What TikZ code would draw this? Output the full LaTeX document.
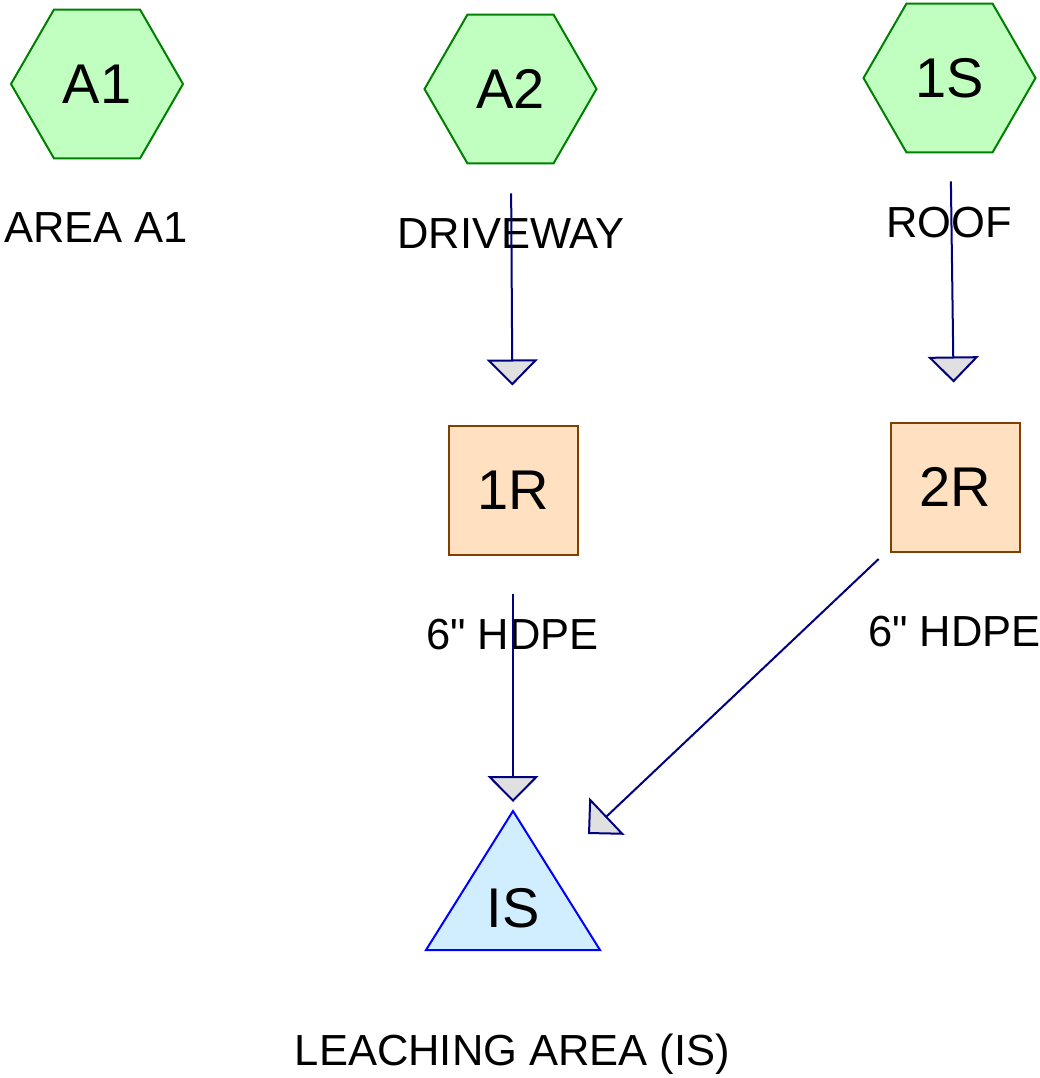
\documentclass[tikz,border=0pt]{standalone}
\usepackage{fontspec}
\setmainfont{Liberation Sans}[Ligatures=TeXOff]
\usetikzlibrary{shapes.geometric,arrows.meta}
\definecolor{hexfill}{HTML}{C0FFC0}
\definecolor{hexdraw}{HTML}{008000}
\definecolor{boxfill}{HTML}{FFE0C0}
\definecolor{boxdraw}{HTML}{804000}
\definecolor{trifill}{HTML}{D0EEFF}
\definecolor{tridraw}{HTML}{0000FF}
\definecolor{arrdraw}{HTML}{000080}
\definecolor{tipfill}{HTML}{E0E0E0}
\newcommand{\lowr}[1]{\raisebox{-2.5pt}{#1}}
\tikzset{
  hexnode/.style={regular polygon, regular polygon sides=6, minimum size=172, inner sep=0pt,
    fill=hexfill, draw=hexdraw, line width=2pt, font=\fontsize{56}{62}\selectfont},
  boxnode/.style={rectangle, minimum width=129, minimum height=129, inner sep=0pt,
    fill=boxfill, draw=boxdraw, line width=2pt, font=\fontsize{56}{62}\selectfont},
  bigtext/.style={inner sep=0pt, font=\fontsize{56}{62}\selectfont},
  lbl/.style={inner sep=0pt, anchor=base, font=\fontsize{43.5}{50}\selectfont},
  conn/.style={draw=arrdraw, line width=2pt,
    -{Triangle[length=26,width=51,fill=tipfill,line width=2pt]}},
}
\begin{document}
\begin{tikzpicture}[x=1pt,y=-1pt]
\useasboundingbox (0,0) rectangle (1040,1078);
% sources
\node[hexnode] (a1) at (97,84) {\lowr{A1}};
\node[hexnode] (a2) at (510.5,89) {\lowr{A2}};
\node[hexnode] (s1) at (949.5,78) {\lowr{1S}};
% labels
\node[lbl] (la1) at (96,242) {AREA A1};
\node[lbl] (la2) at (511,248) {DRIVEWAY};
\node[lbl] (ls1) at (949,237) {ROOF};
% reaches
\node[boxnode] (r1) at (513,490) {\lowr{1R}};
\node[boxnode] (r2) at (955,487) {\lowr{2R}};
\node[lbl] (lr1) at (512.5,649) {6" HDPE};
\node[lbl] (lr2) at (954.5,646) {6" HDPE};
% infiltration triangle
\coordinate (istop) at (513,811);
\coordinate (isleft) at (426,950);
\coordinate (isright) at (600,950);
\filldraw[fill=trifill, draw=tridraw, line width=2pt, line join=miter] (istop) -- (isright) -- (isleft) -- cycle;
\node[bigtext] (is) at (513,908) {IS};
\coordinate (isin) at (588,834);
\node[lbl] (lis) at (512.5,1065) {LEACHING AREA (IS)};
% connectors
\draw[conn, shorten <=29pt, shorten >=39pt] (a2) -- (r1);
\draw[conn, shorten <=28pt, shorten >=39pt] (s1) -- (r2);
\draw[conn, shorten <=38pt, shorten >=9pt] (r1) -- (istop);
\draw[conn, shorten <=15pt] (r2) -- (isin);
\end{tikzpicture}
\end{document}
